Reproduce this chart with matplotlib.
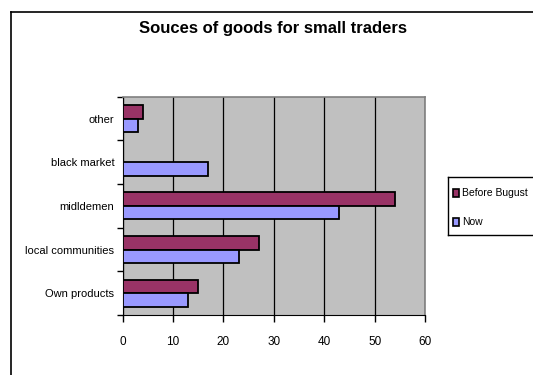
import matplotlib
matplotlib.use("Agg")
import matplotlib.pyplot as plt
from matplotlib.patches import Rectangle
from matplotlib.lines import Line2D
import numpy as np

plt.rcParams['font.family'] = ['Liberation Sans', 'DejaVu Sans']

categories = ["Own products", "local communities", "midldemen", "black market", "other"]
before_bugust = [15, 27, 54, 0, 4]
now = [13, 23, 43, 17, 3]
series_names = ["Before Bugust", "Now"]
x_ticks = [0, 10, 20, 30, 40, 50, 60]
title = "Souces of goods for small traders"

maroon = "#993366"
lavender = "#9999FF"

fig = plt.figure(figsize=(5.33, 3.75), dpi=100)
fig.patch.set_facecolor("white")

# outer chart frame (left and top edges visible)
fig.add_artist(Line2D([11 / 533, 11 / 533], [0, 1 - 12 / 375], transform=fig.transFigure,
                      color="black", lw=1.2))
fig.add_artist(Line2D([11 / 533, 1], [1 - 12 / 375, 1 - 12 / 375], transform=fig.transFigure,
                      color="black", lw=1.2))

ax = fig.add_axes([122.7 / 533, 1 - 315 / 375, (425 - 122.7) / 533, (315 - 96.7) / 375])
ax.set_facecolor("#C0C0C0")

y = np.arange(len(categories))
h = 0.31
ax.barh(y + h / 2, before_bugust, height=h, color=maroon, edgecolor="black",
        linewidth=1.3, zorder=3, label=series_names[0])
ax.barh(y - h / 2, now, height=h, color=lavender, edgecolor="black",
        linewidth=1.3, zorder=3, label=series_names[1])

ax.set_xlim(0, 60)
ax.set_ylim(-0.5, len(categories) - 0.5)
ax.set_xticks(x_ticks)
ax.set_xticklabels([str(v) for v in x_ticks], fontsize=8.5)

# category labels at centers, tick marks at boundaries
ax.set_yticks(y)
ax.set_yticklabels(categories, fontsize=8)
ax.tick_params(axis="y", length=0, pad=6)
ax.set_yticks(np.arange(-0.5, len(categories), 1.0), minor=True)
ax.tick_params(axis="y", which="minor", length=4, width=1, direction="out", color="black")
ax.tick_params(axis="x", length=5, width=1, direction="out", pad=10, color="black")

ax.xaxis.grid(True, color="black", lw=0.9, zorder=1)
ax.set_axisbelow(True)

for side in ["top", "right"]:
    ax.spines[side].set_color("#808080")
    ax.spines[side].set_linewidth(1.2)
ax.spines["left"].set_color("black")
ax.spines["bottom"].set_color("black")

fig.text(273 / 533, 1 - 28 / 375, title, ha="center", va="center",
         fontsize=12, fontweight="bold")

# legend box
leg_ax = fig.add_axes([448 / 533, 1 - 235 / 375, (540 - 448) / 533, (235 - 177) / 375])
leg_ax.set_xlim(0, 1)
leg_ax.set_ylim(0, 1)
leg_ax.set_xticks([])
leg_ax.set_yticks([])
for sp in leg_ax.spines.values():
    sp.set_color("black")
    sp.set_linewidth(1)
leg_ax.spines["right"].set_visible(False)
for i, (name, col) in enumerate(zip(series_names, [maroon, lavender])):
    yy = 0.72 - i * 0.5
    leg_ax.add_patch(Rectangle((0.05, yy - 0.07), 0.065, 0.14, facecolor=col,
                               edgecolor="black", lw=1.2))
    leg_ax.text(0.15, yy, name, va="center", ha="left", fontsize=7.5)

fig.savefig("out.png", dpi=100)
